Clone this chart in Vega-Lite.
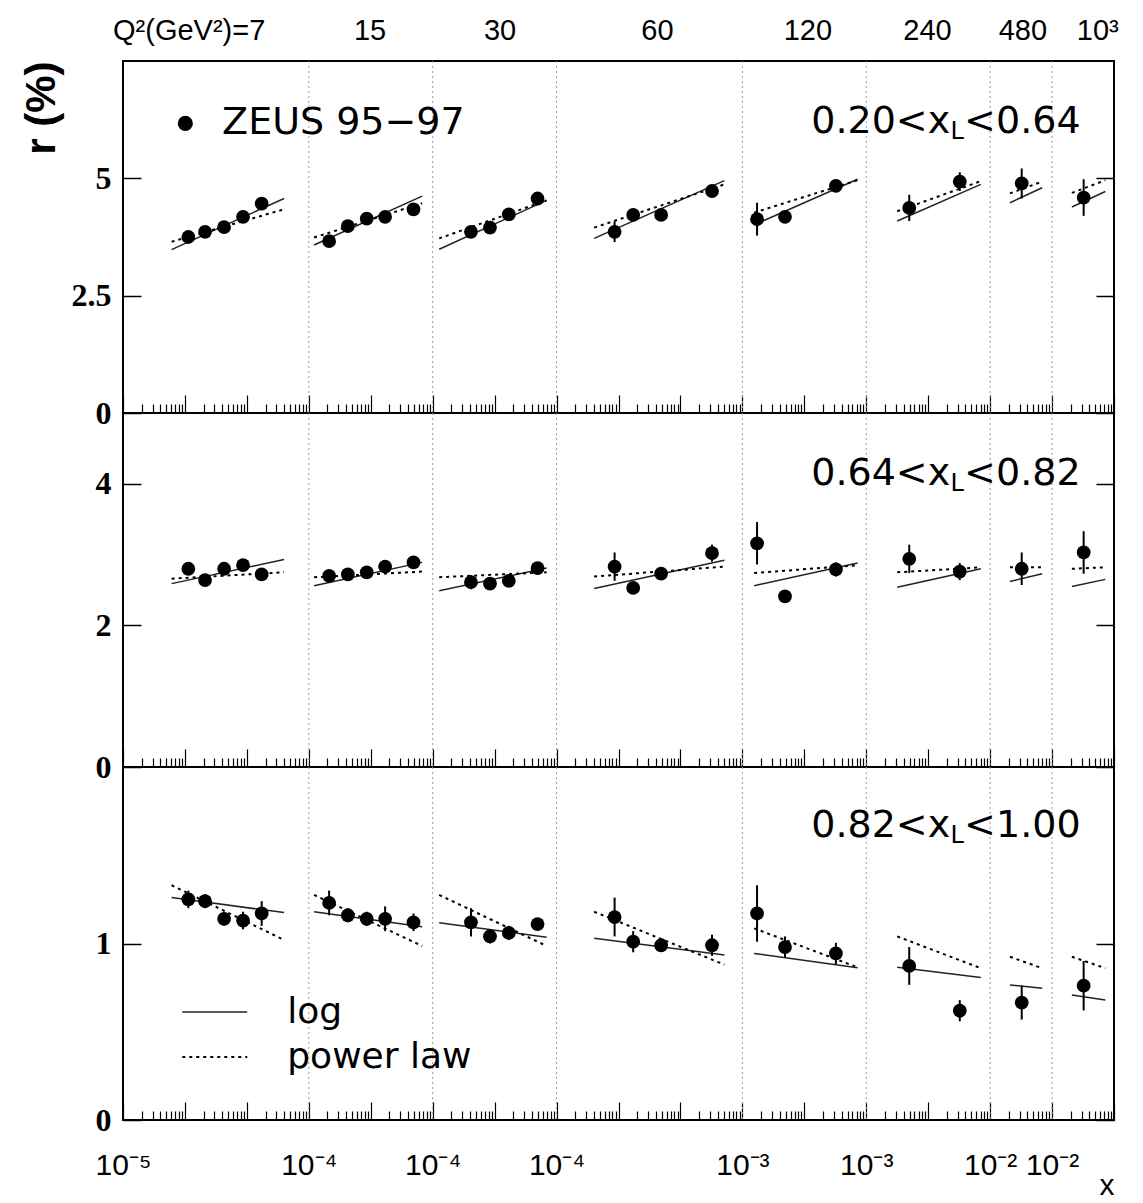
{
"$schema": "https://vega.github.io/schema/vega-lite/v6.json",
"background": "white",
"padding": {"left": 19, "top": 15, "right": 5, "bottom": 5},
"autosize": {"type": "pad"},
"spacing": 0,
"bounds": "flush",
"config": {"view": {"stroke": "black", "strokeWidth": 2}, "axis": {"grid": false}},
"datasets": {
"bounds": [{"pos":3},{"pos":5},{"pos":7},{"pos":10},{"pos":12},{"pos":14},{"pos":15}],
"legpt": [{"pos":1.006,"r":6.17}],
"texts": [
{"p":1,"k":"L","pos":1.6,"r":6.17,"t":"ZEUS 95−97"},
{"p":1,"k":"R","pos":13.355,"r":6.19,"t":"0.20<x"},
{"p":1,"k":"S","pos":13.36,"r":6.19,"t":"L"},
{"p":1,"k":"L","pos":13.58,"r":6.19,"t":"<0.64"},
{"p":2,"k":"R","pos":13.355,"r":4.14,"t":"0.64<x"},
{"p":2,"k":"S","pos":13.36,"r":4.14,"t":"L"},
{"p":2,"k":"L","pos":13.58,"r":4.14,"t":"<0.82"},
{"p":3,"k":"R","pos":13.355,"r":1.666,"t":"0.82<x"},
{"p":3,"k":"S","pos":13.36,"r":1.666,"t":"L"},
{"p":3,"k":"L","pos":13.58,"r":1.666,"t":"<1.00"},
{"p":3,"k":"G","pos":2.652,"r":0.612,"t":"log"},
{"p":3,"k":"G","pos":2.652,"r":0.357,"t":"power law"}
],
"pts": [
{"p":1,"pos":1.055,"r":3.75,"e":0.06},{"p":1,"pos":1.325,"r":3.86,"e":0.05},{"p":1,"pos":1.632,"r":3.96,"e":0.05},{"p":1,"pos":1.938,"r":4.18,"e":0.06},{"p":1,"pos":2.239,"r":4.46,"e":0.07},
{"p":1,"pos":3.328,"r":3.66,"e":0.12},{"p":1,"pos":3.63,"r":3.98,"e":0.06},{"p":1,"pos":3.935,"r":4.14,"e":0.06},{"p":1,"pos":4.232,"r":4.18,"e":0.06},{"p":1,"pos":4.69,"r":4.34,"e":0.07},
{"p":1,"pos":5.618,"r":3.86,"e":0.12},{"p":1,"pos":5.925,"r":3.95,"e":0.08},{"p":1,"pos":6.229,"r":4.23,"e":0.07},{"p":1,"pos":6.693,"r":4.57,"e":0.07},
{"p":1,"pos":7.937,"r":3.86,"e":0.22},{"p":1,"pos":8.237,"r":4.22,"e":0.1},{"p":1,"pos":8.688,"r":4.22,"e":0.08},{"p":1,"pos":9.51,"r":4.73,"e":0.1},
{"p":1,"pos":10.237,"r":4.13,"e":0.35},{"p":1,"pos":10.688,"r":4.18,"e":0.1},{"p":1,"pos":11.51,"r":4.84,"e":0.12},
{"p":1,"pos":12.694,"r":4.37,"e":0.28},{"p":1,"pos":13.51,"r":4.93,"e":0.2},
{"p":1,"pos":14.51,"r":4.89,"e":0.32},
{"p":1,"pos":15.51,"r":4.59,"e":0.39},
{"p":2,"pos":1.055,"r":2.8,"e":0.07},{"p":2,"pos":1.325,"r":2.64,"e":0.05},{"p":2,"pos":1.632,"r":2.8,"e":0.05},{"p":2,"pos":1.938,"r":2.85,"e":0.06},{"p":2,"pos":2.239,"r":2.72,"e":0.08},
{"p":2,"pos":3.328,"r":2.7,"e":0.08},{"p":2,"pos":3.63,"r":2.72,"e":0.05},{"p":2,"pos":3.935,"r":2.75,"e":0.05},{"p":2,"pos":4.232,"r":2.83,"e":0.05},{"p":2,"pos":4.69,"r":2.89,"e":0.06},
{"p":2,"pos":5.618,"r":2.61,"e":0.1},{"p":2,"pos":5.925,"r":2.59,"e":0.05},{"p":2,"pos":6.229,"r":2.63,"e":0.05},{"p":2,"pos":6.693,"r":2.81,"e":0.05},
{"p":2,"pos":7.937,"r":2.83,"e":0.2},{"p":2,"pos":8.237,"r":2.53,"e":0.08},{"p":2,"pos":8.688,"r":2.73,"e":0.05},{"p":2,"pos":9.51,"r":3.02,"e":0.12},
{"p":2,"pos":10.237,"r":3.16,"e":0.3},{"p":2,"pos":10.688,"r":2.41,"e":0.07},{"p":2,"pos":11.51,"r":2.79,"e":0.1},
{"p":2,"pos":12.694,"r":2.94,"e":0.2},{"p":2,"pos":13.51,"r":2.76,"e":0.12},
{"p":2,"pos":14.51,"r":2.8,"e":0.23},
{"p":2,"pos":15.51,"r":3.03,"e":0.3},
{"p":3,"pos":1.055,"r":1.25,"e":0.05},{"p":3,"pos":1.325,"r":1.24,"e":0.04},{"p":3,"pos":1.632,"r":1.14,"e":0.04},{"p":3,"pos":1.938,"r":1.13,"e":0.05},{"p":3,"pos":2.239,"r":1.17,"e":0.07},
{"p":3,"pos":3.328,"r":1.23,"e":0.07},{"p":3,"pos":3.63,"r":1.16,"e":0.04},{"p":3,"pos":3.935,"r":1.14,"e":0.04},{"p":3,"pos":4.232,"r":1.14,"e":0.07},{"p":3,"pos":4.69,"r":1.12,"e":0.05},
{"p":3,"pos":5.618,"r":1.12,"e":0.08},{"p":3,"pos":5.925,"r":1.04,"e":0.04},{"p":3,"pos":6.229,"r":1.06,"e":0.04},{"p":3,"pos":6.693,"r":1.11,"e":0.03},
{"p":3,"pos":7.937,"r":1.15,"e":0.11},{"p":3,"pos":8.237,"r":1.01,"e":0.06},{"p":3,"pos":8.688,"r":0.99,"e":0.03},{"p":3,"pos":9.51,"r":0.99,"e":0.06},
{"p":3,"pos":10.237,"r":1.17,"e":0.16},{"p":3,"pos":10.688,"r":0.98,"e":0.06},{"p":3,"pos":11.51,"r":0.944,"e":0.06},
{"p":3,"pos":12.694,"r":0.873,"e":0.107},{"p":3,"pos":13.51,"r":0.619,"e":0.06},
{"p":3,"pos":14.51,"r":0.665,"e":0.096},
{"p":3,"pos":15.51,"r":0.761,"e":0.14}
],
"fits": [
{"p":1,"m":"log","b":"7","pos":0.785,"r":3.48},{"p":1,"m":"log","b":"7","pos":2.6,"r":4.57},
{"p":1,"m":"log","b":"15","pos":3.085,"r":3.58},{"p":1,"m":"log","b":"15","pos":4.83,"r":4.62},
{"p":1,"m":"log","b":"30","pos":5.105,"r":3.49},{"p":1,"m":"log","b":"30","pos":6.84,"r":4.53},
{"p":1,"m":"log","b":"60","pos":7.607,"r":3.72},{"p":1,"m":"log","b":"60","pos":9.71,"r":4.95},
{"p":1,"m":"log","b":"120","pos":10.19,"r":4.01},{"p":1,"m":"log","b":"120","pos":11.86,"r":4.98},
{"p":1,"m":"log","b":"240","pos":12.5,"r":4.09},{"p":1,"m":"log","b":"240","pos":13.85,"r":4.87},
{"p":1,"m":"log","b":"480","pos":14.32,"r":4.48},{"p":1,"m":"log","b":"480","pos":14.84,"r":4.8},
{"p":1,"m":"log","b":"1000","pos":15.32,"r":4.39},{"p":1,"m":"log","b":"1000","pos":15.86,"r":4.72},
{"p":1,"m":"pow","b":"7","pos":0.785,"r":3.65},{"p":1,"m":"pow","b":"7","pos":2.6,"r":4.34},
{"p":1,"m":"pow","b":"15","pos":3.085,"r":3.74},{"p":1,"m":"pow","b":"15","pos":4.83,"r":4.47},
{"p":1,"m":"pow","b":"30","pos":5.105,"r":3.72},{"p":1,"m":"pow","b":"30","pos":6.84,"r":4.53},
{"p":1,"m":"pow","b":"60","pos":7.607,"r":3.95},{"p":1,"m":"pow","b":"60","pos":9.71,"r":4.87},
{"p":1,"m":"pow","b":"120","pos":10.19,"r":4.27},{"p":1,"m":"pow","b":"120","pos":11.86,"r":4.96},
{"p":1,"m":"pow","b":"240","pos":12.5,"r":4.3},{"p":1,"m":"pow","b":"240","pos":13.85,"r":4.94},
{"p":1,"m":"pow","b":"480","pos":14.32,"r":4.68},{"p":1,"m":"pow","b":"480","pos":14.84,"r":4.93},
{"p":1,"m":"pow","b":"1000","pos":15.32,"r":4.69},{"p":1,"m":"pow","b":"1000","pos":15.86,"r":4.96},
{"p":2,"m":"log","b":"7","pos":0.785,"r":2.59},{"p":2,"m":"log","b":"7","pos":2.6,"r":2.93},
{"p":2,"m":"log","b":"15","pos":3.085,"r":2.56},{"p":2,"m":"log","b":"15","pos":4.83,"r":2.89},
{"p":2,"m":"log","b":"30","pos":5.105,"r":2.49},{"p":2,"m":"log","b":"30","pos":6.84,"r":2.81},
{"p":2,"m":"log","b":"60","pos":7.607,"r":2.52},{"p":2,"m":"log","b":"60","pos":9.71,"r":2.92},
{"p":2,"m":"log","b":"120","pos":10.19,"r":2.56},{"p":2,"m":"log","b":"120","pos":11.86,"r":2.88},
{"p":2,"m":"log","b":"240","pos":12.5,"r":2.54},{"p":2,"m":"log","b":"240","pos":13.85,"r":2.8},
{"p":2,"m":"log","b":"480","pos":14.32,"r":2.62},{"p":2,"m":"log","b":"480","pos":14.84,"r":2.73},
{"p":2,"m":"log","b":"1000","pos":15.32,"r":2.55},{"p":2,"m":"log","b":"1000","pos":15.86,"r":2.65},
{"p":2,"m":"pow","b":"7","pos":0.785,"r":2.66},{"p":2,"m":"pow","b":"7","pos":2.6,"r":2.75},
{"p":2,"m":"pow","b":"15","pos":3.085,"r":2.68},{"p":2,"m":"pow","b":"15","pos":4.83,"r":2.76},
{"p":2,"m":"pow","b":"30","pos":5.105,"r":2.68},{"p":2,"m":"pow","b":"30","pos":6.84,"r":2.75},
{"p":2,"m":"pow","b":"60","pos":7.607,"r":2.69},{"p":2,"m":"pow","b":"60","pos":9.71,"r":2.83},
{"p":2,"m":"pow","b":"120","pos":10.19,"r":2.74},{"p":2,"m":"pow","b":"120","pos":11.86,"r":2.85},
{"p":2,"m":"pow","b":"240","pos":12.5,"r":2.75},{"p":2,"m":"pow","b":"240","pos":13.85,"r":2.82},
{"p":2,"m":"pow","b":"480","pos":14.32,"r":2.82},{"p":2,"m":"pow","b":"480","pos":14.84,"r":2.82},
{"p":2,"m":"pow","b":"1000","pos":15.32,"r":2.8},{"p":2,"m":"pow","b":"1000","pos":15.86,"r":2.82},
{"p":3,"m":"log","b":"7","pos":0.785,"r":1.26},{"p":3,"m":"log","b":"7","pos":2.6,"r":1.175},
{"p":3,"m":"log","b":"15","pos":3.085,"r":1.18},{"p":3,"m":"log","b":"15","pos":4.83,"r":1.095},
{"p":3,"m":"log","b":"30","pos":5.105,"r":1.118},{"p":3,"m":"log","b":"30","pos":6.84,"r":1.035},
{"p":3,"m":"log","b":"60","pos":7.607,"r":1.03},{"p":3,"m":"log","b":"60","pos":9.71,"r":0.935},
{"p":3,"m":"log","b":"120","pos":10.19,"r":0.944},{"p":3,"m":"log","b":"120","pos":11.86,"r":0.863},
{"p":3,"m":"log","b":"240","pos":12.5,"r":0.865},{"p":3,"m":"log","b":"240","pos":13.85,"r":0.808},
{"p":3,"m":"log","b":"480","pos":14.32,"r":0.765},{"p":3,"m":"log","b":"480","pos":14.84,"r":0.746},
{"p":3,"m":"log","b":"1000","pos":15.32,"r":0.708},{"p":3,"m":"log","b":"1000","pos":15.86,"r":0.68},
{"p":3,"m":"pow","b":"7","pos":0.785,"r":1.33},{"p":3,"m":"pow","b":"7","pos":2.6,"r":1.02},
{"p":3,"m":"pow","b":"15","pos":3.085,"r":1.275},{"p":3,"m":"pow","b":"15","pos":4.83,"r":0.986},
{"p":3,"m":"pow","b":"30","pos":5.105,"r":1.275},{"p":3,"m":"pow","b":"30","pos":6.84,"r":0.986},
{"p":3,"m":"pow","b":"60","pos":7.607,"r":1.18},{"p":3,"m":"pow","b":"60","pos":9.71,"r":0.88},
{"p":3,"m":"pow","b":"120","pos":10.19,"r":1.086},{"p":3,"m":"pow","b":"120","pos":11.86,"r":0.865},
{"p":3,"m":"pow","b":"240","pos":12.5,"r":1.04},{"p":3,"m":"pow","b":"240","pos":13.85,"r":0.86},
{"p":3,"m":"pow","b":"480","pos":14.32,"r":0.925},{"p":3,"m":"pow","b":"480","pos":14.84,"r":0.86},
{"p":3,"m":"pow","b":"1000","pos":15.32,"r":0.925},{"p":3,"m":"pow","b":"1000","pos":15.86,"r":0.86},
{"p":3,"m":"log","b":"leg","pos":0.957,"r":0.612},{"p":3,"m":"log","b":"leg","pos":2.006,"r":0.612},
{"p":3,"m":"pow","b":"leg","pos":0.957,"r":0.357},{"p":3,"m":"pow","b":"leg","pos":2.006,"r":0.357}
]
},
"vconcat": [
{
"width": 991, "height": 352,
"resolve": {"axis": {"x": "independent", "y": "independent"}},
"layer": [
{"data": {"name": "bounds"}, "mark": {"type": "rule", "color": "#999999", "strokeDash": [2, 3], "strokeWidth": 1},
 "encoding": {"x": {"field": "pos", "type": "quantitative", "scale": {"domain": [0, 16], "nice": false, "zero": false},
  "axis": {"orient": "bottom", "values": [0,0.301,0.477,0.602,0.699,0.778,0.845,0.903,0.954,1,1.301,1.477,1.602,1.699,1.778,1.845,1.903,1.954,2,2.301,2.477,2.602,2.699,2.778,2.845,2.903,2.954,3,3.301,3.477,3.602,3.699,3.778,3.845,3.903,3.954,4,4.301,4.477,4.602,4.699,4.778,4.845,4.903,4.954,5,5.301,5.477,5.602,5.699,5.778,5.845,5.903,5.954,6,6.301,6.477,6.602,6.699,6.778,6.845,6.903,6.954,7,7.301,7.477,7.602,7.699,7.778,7.845,7.903,7.954,8,8.301,8.477,8.602,8.699,8.778,8.845,8.903,8.954,9,9.301,9.477,9.602,9.699,9.778,9.845,9.903,9.954,10,10.301,10.477,10.602,10.699,10.778,10.845,10.903,10.954,11,11.301,11.477,11.602,11.699,11.778,11.845,11.903,11.954,12,12.301,12.477,12.602,12.699,12.778,12.845,12.903,12.954,13,13.301,13.477,13.602,13.699,13.778,13.845,13.903,13.954,14,14.301,14.477,14.602,14.699,14.778,14.845,14.903,14.954,15,15.301,15.477,15.602,15.699,15.778,15.845,15.903,15.954,16],
   "labels": false, "title": null, "domain": false, "grid": false, "tickColor": "black", "tickWidth": 1.2,
   "tickSize": {"condition": {"test": "datum.value % 1 === 0", "value": -18}, "value": -9}}}}},
{"data": {"name": "fits"}, "transform": [{"filter": "datum.p === 1 && datum.m === 'log'"}],
 "mark": {"type": "line", "color": "#222222", "strokeWidth": 1.5},
 "encoding": {
  "x": {"field": "pos", "type": "quantitative", "scale": {"domain": [0, 16], "nice": false, "zero": false},
   "axis": {"orient": "top", "values": [1.06, 3.98, 6.08, 8.62, 11.05, 12.98, 14.52, 15.73], "ticks": false, "tickSize": 0, "domain": false, "grid": false,
    "labelExpr": "datum.value < 2 ? 'Q²(GeV²)=7' : datum.value < 5 ? '15' : datum.value < 7 ? '30' : datum.value < 10 ? '60' : datum.value < 12 ? '120' : datum.value < 14 ? '240' : datum.value < 15 ? '480' : '10³'",
    "labelFont": "Liberation Sans", "labelFontSize": 29, "labelColor": "black", "labelPadding": 16, "labelOverlap": false, "labelFlush": false, "title": null}},
  "y": {"field": "r", "type": "quantitative", "scale": {"domain": [0, 7.5], "nice": false, "zero": false},
   "axis": {"orient": "left", "values": [0, 2.5, 5], "labelExpr": "'' + datum.value", "tickSize": -18, "tickColor": "black", "tickWidth": 1.5, "domain": false, "grid": false,
    "labelFont": "Liberation Serif", "labelFontWeight": "bold", "labelFontSize": 32, "labelColor": "black", "labelPadding": 30, "labelOverlap": false, "labelFlush": false,
    "title": "r (%)", "titleFont": "Liberation Sans", "titleFontWeight": "bold", "titleFontSize": 42, "titleAnchor": "end", "titleColor": "black", "titlePadding": 8}},
  "detail": {"field": "b", "type": "nominal"}}},
{"data": {"name": "fits"}, "transform": [{"filter": "datum.p === 1 && datum.m === 'pow'"}],
 "mark": {"type": "line", "color": "black", "strokeWidth": 2, "strokeDash": [3, 4]},
 "encoding": {
  "x": {"field": "pos", "type": "quantitative", "scale": {"domain": [0, 16], "nice": false, "zero": false}, "axis": null},
  "y": {"field": "r", "type": "quantitative", "scale": {"domain": [0, 7.5], "nice": false, "zero": false},
   "axis": {"orient": "right", "values": [0, 2.5, 5], "tickSize": -18, "tickColor": "black", "tickWidth": 1.5, "labels": false, "domain": false, "grid": false, "title": null}},
  "detail": {"field": "b", "type": "nominal"}}},
{"data": {"name": "pts"}, "transform": [{"filter": "datum.p === 1"}],
 "mark": {"type": "errorbar", "rule": {"strokeWidth": 2, "color": "black"}},
 "encoding": {
  "x": {"field": "pos", "type": "quantitative", "scale": {"domain": [0, 16], "nice": false, "zero": false}, "axis": null},
  "y": {"field": "r", "type": "quantitative", "scale": {"domain": [0, 7.5], "nice": false, "zero": false}, "axis": null},
  "yError": {"field": "e"}}},
{"data": {"name": "pts"}, "transform": [{"filter": "datum.p === 1"}],
 "mark": {"type": "point", "filled": true, "size": 190, "color": "black", "opacity": 1},
 "encoding": {
  "x": {"field": "pos", "type": "quantitative", "scale": {"domain": [0, 16], "nice": false, "zero": false}, "axis": null},
  "y": {"field": "r", "type": "quantitative", "scale": {"domain": [0, 7.5], "nice": false, "zero": false}, "axis": null}}},
{"data": {"name": "legpt"},
 "mark": {"type": "point", "filled": true, "size": 230, "color": "black", "opacity": 1},
 "encoding": {
  "x": {"field": "pos", "type": "quantitative", "scale": {"domain": [0, 16], "nice": false, "zero": false}, "axis": null},
  "y": {"field": "r", "type": "quantitative", "scale": {"domain": [0, 7.5], "nice": false, "zero": false}, "axis": null}}},
{"data": {"name": "texts"}, "transform": [{"filter": "datum.p === 1 && datum.k === 'L'"}],
 "mark": {"type": "text", "font": "DejaVu Sans", "fontSize": 38, "align": "left", "baseline": "middle", "color": "black"},
 "encoding": {
  "x": {"field": "pos", "type": "quantitative", "scale": {"domain": [0, 16], "nice": false, "zero": false}, "axis": null},
  "y": {"field": "r", "type": "quantitative", "scale": {"domain": [0, 7.5], "nice": false, "zero": false}, "axis": null},
  "text": {"field": "t"}}},
{"data": {"name": "texts"}, "transform": [{"filter": "datum.p === 1 && datum.k === 'R'"}],
 "mark": {"type": "text", "font": "DejaVu Sans", "fontSize": 38, "align": "right", "baseline": "middle", "color": "black"},
 "encoding": {
  "x": {"field": "pos", "type": "quantitative", "scale": {"domain": [0, 16], "nice": false, "zero": false}, "axis": null},
  "y": {"field": "r", "type": "quantitative", "scale": {"domain": [0, 7.5], "nice": false, "zero": false}, "axis": null},
  "text": {"field": "t"}}},
{"data": {"name": "texts"}, "transform": [{"filter": "datum.p === 1 && datum.k === 'S'"}],
 "mark": {"type": "text", "font": "DejaVu Sans", "fontSize": 24, "align": "left", "baseline": "middle", "dy": 10, "color": "black"},
 "encoding": {
  "x": {"field": "pos", "type": "quantitative", "scale": {"domain": [0, 16], "nice": false, "zero": false}, "axis": null},
  "y": {"field": "r", "type": "quantitative", "scale": {"domain": [0, 7.5], "nice": false, "zero": false}, "axis": null},
  "text": {"field": "t"}}}
]
},
{
"width": 991, "height": 354,
"resolve": {"axis": {"x": "independent", "y": "independent"}},
"layer": [
{"data": {"name": "bounds"}, "mark": {"type": "rule", "color": "#999999", "strokeDash": [2, 3], "strokeWidth": 1},
 "encoding": {"x": {"field": "pos", "type": "quantitative", "scale": {"domain": [0, 16], "nice": false, "zero": false},
  "axis": {"orient": "bottom", "values": [0,0.301,0.477,0.602,0.699,0.778,0.845,0.903,0.954,1,1.301,1.477,1.602,1.699,1.778,1.845,1.903,1.954,2,2.301,2.477,2.602,2.699,2.778,2.845,2.903,2.954,3,3.301,3.477,3.602,3.699,3.778,3.845,3.903,3.954,4,4.301,4.477,4.602,4.699,4.778,4.845,4.903,4.954,5,5.301,5.477,5.602,5.699,5.778,5.845,5.903,5.954,6,6.301,6.477,6.602,6.699,6.778,6.845,6.903,6.954,7,7.301,7.477,7.602,7.699,7.778,7.845,7.903,7.954,8,8.301,8.477,8.602,8.699,8.778,8.845,8.903,8.954,9,9.301,9.477,9.602,9.699,9.778,9.845,9.903,9.954,10,10.301,10.477,10.602,10.699,10.778,10.845,10.903,10.954,11,11.301,11.477,11.602,11.699,11.778,11.845,11.903,11.954,12,12.301,12.477,12.602,12.699,12.778,12.845,12.903,12.954,13,13.301,13.477,13.602,13.699,13.778,13.845,13.903,13.954,14,14.301,14.477,14.602,14.699,14.778,14.845,14.903,14.954,15,15.301,15.477,15.602,15.699,15.778,15.845,15.903,15.954,16],
   "labels": false, "title": null, "domain": false, "grid": false, "tickColor": "black", "tickWidth": 1.2,
   "tickSize": {"condition": {"test": "datum.value % 1 === 0", "value": -18}, "value": -9}}}}},
{"data": {"name": "fits"}, "transform": [{"filter": "datum.p === 2 && datum.m === 'log'"}],
 "mark": {"type": "line", "color": "#222222", "strokeWidth": 1.5},
 "encoding": {
  "x": {"field": "pos", "type": "quantitative", "scale": {"domain": [0, 16], "nice": false, "zero": false}, "axis": null},
  "y": {"field": "r", "type": "quantitative", "scale": {"domain": [0, 5], "nice": false, "zero": false},
   "axis": {"orient": "left", "values": [0, 2, 4], "labelExpr": "'' + datum.value", "tickSize": -18, "tickColor": "black", "tickWidth": 1.5, "domain": false, "grid": false,
    "labelFont": "Liberation Serif", "labelFontWeight": "bold", "labelFontSize": 32, "labelColor": "black", "labelPadding": 30, "labelOverlap": false, "labelFlush": false, "title": null}},
  "detail": {"field": "b", "type": "nominal"}}},
{"data": {"name": "fits"}, "transform": [{"filter": "datum.p === 2 && datum.m === 'pow'"}],
 "mark": {"type": "line", "color": "black", "strokeWidth": 2, "strokeDash": [3, 4]},
 "encoding": {
  "x": {"field": "pos", "type": "quantitative", "scale": {"domain": [0, 16], "nice": false, "zero": false}, "axis": null},
  "y": {"field": "r", "type": "quantitative", "scale": {"domain": [0, 5], "nice": false, "zero": false},
   "axis": {"orient": "right", "values": [0, 2, 4], "tickSize": -18, "tickColor": "black", "tickWidth": 1.5, "labels": false, "domain": false, "grid": false, "title": null}},
  "detail": {"field": "b", "type": "nominal"}}},
{"data": {"name": "pts"}, "transform": [{"filter": "datum.p === 2"}],
 "mark": {"type": "errorbar", "rule": {"strokeWidth": 2, "color": "black"}},
 "encoding": {
  "x": {"field": "pos", "type": "quantitative", "scale": {"domain": [0, 16], "nice": false, "zero": false}, "axis": null},
  "y": {"field": "r", "type": "quantitative", "scale": {"domain": [0, 5], "nice": false, "zero": false}, "axis": null},
  "yError": {"field": "e"}}},
{"data": {"name": "pts"}, "transform": [{"filter": "datum.p === 2"}],
 "mark": {"type": "point", "filled": true, "size": 190, "color": "black", "opacity": 1},
 "encoding": {
  "x": {"field": "pos", "type": "quantitative", "scale": {"domain": [0, 16], "nice": false, "zero": false}, "axis": null},
  "y": {"field": "r", "type": "quantitative", "scale": {"domain": [0, 5], "nice": false, "zero": false}, "axis": null}}},
{"data": {"name": "texts"}, "transform": [{"filter": "datum.p === 2 && datum.k === 'L'"}],
 "mark": {"type": "text", "font": "DejaVu Sans", "fontSize": 38, "align": "left", "baseline": "middle", "color": "black"},
 "encoding": {
  "x": {"field": "pos", "type": "quantitative", "scale": {"domain": [0, 16], "nice": false, "zero": false}, "axis": null},
  "y": {"field": "r", "type": "quantitative", "scale": {"domain": [0, 5], "nice": false, "zero": false}, "axis": null},
  "text": {"field": "t"}}},
{"data": {"name": "texts"}, "transform": [{"filter": "datum.p === 2 && datum.k === 'R'"}],
 "mark": {"type": "text", "font": "DejaVu Sans", "fontSize": 38, "align": "right", "baseline": "middle", "color": "black"},
 "encoding": {
  "x": {"field": "pos", "type": "quantitative", "scale": {"domain": [0, 16], "nice": false, "zero": false}, "axis": null},
  "y": {"field": "r", "type": "quantitative", "scale": {"domain": [0, 5], "nice": false, "zero": false}, "axis": null},
  "text": {"field": "t"}}},
{"data": {"name": "texts"}, "transform": [{"filter": "datum.p === 2 && datum.k === 'S'"}],
 "mark": {"type": "text", "font": "DejaVu Sans", "fontSize": 24, "align": "left", "baseline": "middle", "dy": 10, "color": "black"},
 "encoding": {
  "x": {"field": "pos", "type": "quantitative", "scale": {"domain": [0, 16], "nice": false, "zero": false}, "axis": null},
  "y": {"field": "r", "type": "quantitative", "scale": {"domain": [0, 5], "nice": false, "zero": false}, "axis": null},
  "text": {"field": "t"}}}
]
},
{
"width": 991, "height": 353,
"resolve": {"axis": {"x": "independent", "y": "independent"}},
"layer": [
{"data": {"name": "bounds"}, "mark": {"type": "rule", "color": "#999999", "strokeDash": [2, 3], "strokeWidth": 1},
 "encoding": {"x": {"field": "pos", "type": "quantitative", "scale": {"domain": [0, 16], "nice": false, "zero": false},
  "axis": {"orient": "bottom", "values": [0,0.301,0.477,0.602,0.699,0.778,0.845,0.903,0.954,1,1.301,1.477,1.602,1.699,1.778,1.845,1.903,1.954,2,2.301,2.477,2.602,2.699,2.778,2.845,2.903,2.954,3,3.301,3.477,3.602,3.699,3.778,3.845,3.903,3.954,4,4.301,4.477,4.602,4.699,4.778,4.845,4.903,4.954,5,5.301,5.477,5.602,5.699,5.778,5.845,5.903,5.954,6,6.301,6.477,6.602,6.699,6.778,6.845,6.903,6.954,7,7.301,7.477,7.602,7.699,7.778,7.845,7.903,7.954,8,8.301,8.477,8.602,8.699,8.778,8.845,8.903,8.954,9,9.301,9.477,9.602,9.699,9.778,9.845,9.903,9.954,10,10.301,10.477,10.602,10.699,10.778,10.845,10.903,10.954,11,11.301,11.477,11.602,11.699,11.778,11.845,11.903,11.954,12,12.301,12.477,12.602,12.699,12.778,12.845,12.903,12.954,13,13.301,13.477,13.602,13.699,13.778,13.845,13.903,13.954,14,14.301,14.477,14.602,14.699,14.778,14.845,14.903,14.954,15,15.301,15.477,15.602,15.699,15.778,15.845,15.903,15.954,16],
   "labelExpr": "datum.value === 0 ? '10⁻⁵' : (datum.value === 3 || datum.value === 5 || datum.value === 7) ? '10⁻⁴' : (datum.value === 10 || datum.value === 12) ? '10⁻³' : (datum.value === 14 || datum.value === 15) ? '10⁻²' : ''",
   "labelFont": "Liberation Sans", "labelFontSize": 30, "labelColor": "black", "labelPadding": 48, "labelOverlap": false, "labelFlush": false,
   "title": "x", "titleFont": "Liberation Sans", "titleFontSize": 30, "titleFontWeight": "normal", "titleAnchor": "end", "titleColor": "black", "titlePadding": -19,
   "domain": false, "grid": false, "tickColor": "black", "tickWidth": 1.2,
   "tickSize": {"condition": {"test": "datum.value % 1 === 0", "value": -18}, "value": -9}}}}},
{"data": {"name": "fits"}, "transform": [{"filter": "datum.p === 3 && datum.m === 'log'"}],
 "mark": {"type": "line", "color": "#222222", "strokeWidth": 1.5},
 "encoding": {
  "x": {"field": "pos", "type": "quantitative", "scale": {"domain": [0, 16], "nice": false, "zero": false}, "axis": null},
  "y": {"field": "r", "type": "quantitative", "scale": {"domain": [0, 2], "nice": false, "zero": false},
   "axis": {"orient": "left", "values": [0, 1], "labelExpr": "'' + datum.value", "tickSize": -18, "tickColor": "black", "tickWidth": 1.5, "domain": false, "grid": false,
    "labelFont": "Liberation Serif", "labelFontWeight": "bold", "labelFontSize": 32, "labelColor": "black", "labelPadding": 30, "labelOverlap": false, "labelFlush": false, "title": null}},
  "detail": {"field": "b", "type": "nominal"}}},
{"data": {"name": "fits"}, "transform": [{"filter": "datum.p === 3 && datum.m === 'pow'"}],
 "mark": {"type": "line", "color": "black", "strokeWidth": 2, "strokeDash": [3, 4]},
 "encoding": {
  "x": {"field": "pos", "type": "quantitative", "scale": {"domain": [0, 16], "nice": false, "zero": false}, "axis": null},
  "y": {"field": "r", "type": "quantitative", "scale": {"domain": [0, 2], "nice": false, "zero": false},
   "axis": {"orient": "right", "values": [0, 1], "tickSize": -18, "tickColor": "black", "tickWidth": 1.5, "labels": false, "domain": false, "grid": false, "title": null}},
  "detail": {"field": "b", "type": "nominal"}}},
{"data": {"name": "pts"}, "transform": [{"filter": "datum.p === 3"}],
 "mark": {"type": "errorbar", "rule": {"strokeWidth": 2, "color": "black"}},
 "encoding": {
  "x": {"field": "pos", "type": "quantitative", "scale": {"domain": [0, 16], "nice": false, "zero": false}, "axis": null},
  "y": {"field": "r", "type": "quantitative", "scale": {"domain": [0, 2], "nice": false, "zero": false}, "axis": null},
  "yError": {"field": "e"}}},
{"data": {"name": "pts"}, "transform": [{"filter": "datum.p === 3"}],
 "mark": {"type": "point", "filled": true, "size": 190, "color": "black", "opacity": 1},
 "encoding": {
  "x": {"field": "pos", "type": "quantitative", "scale": {"domain": [0, 16], "nice": false, "zero": false}, "axis": null},
  "y": {"field": "r", "type": "quantitative", "scale": {"domain": [0, 2], "nice": false, "zero": false}, "axis": null}}},
{"data": {"name": "texts"}, "transform": [{"filter": "datum.p === 3 && datum.k === 'L'"}],
 "mark": {"type": "text", "font": "DejaVu Sans", "fontSize": 38, "align": "left", "baseline": "middle", "color": "black"},
 "encoding": {
  "x": {"field": "pos", "type": "quantitative", "scale": {"domain": [0, 16], "nice": false, "zero": false}, "axis": null},
  "y": {"field": "r", "type": "quantitative", "scale": {"domain": [0, 2], "nice": false, "zero": false}, "axis": null},
  "text": {"field": "t"}}},
{"data": {"name": "texts"}, "transform": [{"filter": "datum.p === 3 && datum.k === 'R'"}],
 "mark": {"type": "text", "font": "DejaVu Sans", "fontSize": 38, "align": "right", "baseline": "middle", "color": "black"},
 "encoding": {
  "x": {"field": "pos", "type": "quantitative", "scale": {"domain": [0, 16], "nice": false, "zero": false}, "axis": null},
  "y": {"field": "r", "type": "quantitative", "scale": {"domain": [0, 2], "nice": false, "zero": false}, "axis": null},
  "text": {"field": "t"}}},
{"data": {"name": "texts"}, "transform": [{"filter": "datum.p === 3 && datum.k === 'S'"}],
 "mark": {"type": "text", "font": "DejaVu Sans", "fontSize": 24, "align": "left", "baseline": "middle", "dy": 10, "color": "black"},
 "encoding": {
  "x": {"field": "pos", "type": "quantitative", "scale": {"domain": [0, 16], "nice": false, "zero": false}, "axis": null},
  "y": {"field": "r", "type": "quantitative", "scale": {"domain": [0, 2], "nice": false, "zero": false}, "axis": null},
  "text": {"field": "t"}}},
{"data": {"name": "texts"}, "transform": [{"filter": "datum.p === 3 && datum.k === 'G'"}],
 "mark": {"type": "text", "font": "DejaVu Sans", "fontSize": 36, "align": "left", "baseline": "middle", "color": "black"},
 "encoding": {
  "x": {"field": "pos", "type": "quantitative", "scale": {"domain": [0, 16], "nice": false, "zero": false}, "axis": null},
  "y": {"field": "r", "type": "quantitative", "scale": {"domain": [0, 2], "nice": false, "zero": false}, "axis": null},
  "text": {"field": "t"}}}
]
}
]
}
